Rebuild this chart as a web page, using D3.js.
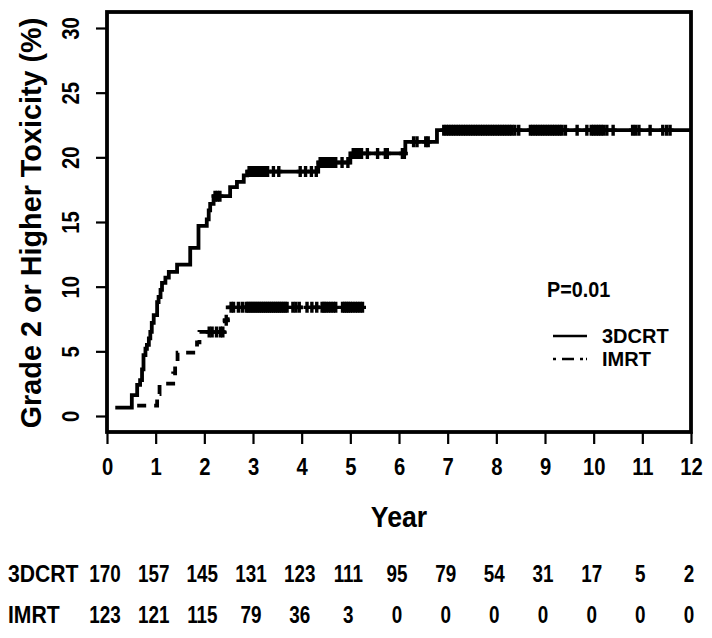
<!DOCTYPE html>
<html><head><meta charset="utf-8">
<script src="https://cdn.jsdelivr.net/npm/d3@7"></script>
<style>
html,body{margin:0;padding:0;background:#fff;}
svg{display:block;}
text{font-family:"Liberation Sans",Arial,Helvetica,sans-serif;font-weight:bold;fill:#000;}
</style>
</head><body>
<svg id="c" width="712" height="638"></svg>
<script>
// ---------- data ----------
const years = [0,1,2,3,4,5,6,7,8,9,10,11,12];
const yTicks = [0,5,10,15,20,25,30];

// 3DCRT cumulative incidence (%) step function
const crtTimes  = [0.17,0.51,0.62,0.68,0.72,0.75,0.79,0.82,0.86,0.89,0.92,0.96,1.03,1.06,1.10,1.13,1.20,1.27,1.44,1.71,1.88,2.05,2.09,2.12,2.19,2.53,2.67,2.81,2.88,4.34,5.00,6.13,6.78];
const crtValues = [0.64,1.62,2.40,2.78,3.6,4.7,5.2,5.5,6.0,6.5,7.2,7.8,8.8,9.2,9.75,10.3,10.7,11.15,11.7,13.0,14.7,15.2,15.9,16.4,17.0,17.7,18.1,18.6,18.9,19.6,20.3,21.2,22.1];
const crtEnd = 12;

// IMRT cumulative incidence (%) step function
const imrtTimes  = [0.62,1.03,1.08,1.36,1.40,1.45,1.85,1.90,2.42,2.48];
const imrtValues = [0.8,1.7,2.5,3.3,4.1,4.9,5.7,6.5,7.4,8.4];
const imrtEnd = 5.26;

// censoring times
const crtCensor = [2.22,2.27,2.32,
  2.92,2.96,3.00,3.04,3.08,3.12,3.16,3.20,3.25,3.30,3.42,3.53,3.97,4.08,4.20,4.30,
  4.38,4.42,4.46,4.50,4.54,4.58,4.62,4.66,4.70,4.83,4.95,
  5.06,5.10,5.14,5.18,5.23,5.35,5.56,5.72,5.76,6.07,6.11,
  6.30,6.37,6.55,6.60,
  6.92,6.97,7.02,7.07,7.12,7.17,7.22,7.27,7.32,7.37,7.42,7.47,7.52,7.57,7.62,7.67,7.72,7.77,7.82,7.87,7.92,7.97,8.02,8.07,8.12,8.17,8.22,8.27,8.32,8.38,8.46,
  8.70,8.75,8.80,8.85,8.90,8.95,9.00,9.05,9.10,9.15,9.20,9.25,9.30,9.35,9.42,
  9.66,9.86,9.95,10.00,10.05,10.10,10.15,10.20,10.27,10.40,10.80,10.86,10.93,11.16,11.42,11.50,11.57];
const imrtCensor = [2.10,2.16,2.25,2.33,2.38,2.45,
  2.55,2.60,2.70,2.78,2.86,2.90,2.94,2.98,3.02,3.06,3.10,3.14,3.18,3.22,3.26,3.30,3.34,3.38,3.42,3.46,3.50,3.54,3.58,3.62,3.66,3.70,
  3.82,3.88,3.95,4.11,4.21,4.31,4.42,4.46,4.50,4.55,4.60,4.65,4.70,4.84,4.88,4.92,4.96,5.00,5.05,5.10,5.15,5.20,5.25];

// number at risk
const riskLabels = ["3DCRT","IMRT"];
const riskCRT  = [170,157,145,131,123,111,95,79,54,31,17,5,2];
const riskIMRT = [123,121,115,79,36,3,0,0,0,0,0,0,0];

const seriesNames = ["3DCRT","IMRT"];
const pText = "P=0.01";
const xTitle = "Year";
const yTitle = "Grade 2 or Higher Toxicity (%)";

// ---------- layout ----------
const svg = d3.select("#c");
const L = 107, R = 691, T = 12, B = 432;
const x = d3.scaleLinear().domain([0,12]).range([L,R]);
const y = d3.scaleLinear().domain([0,30]).range([416,28]);
const SX = 0.88;

// box
svg.append("rect").attr("x",L).attr("y",T).attr("width",R-L).attr("height",B-T)
  .attr("fill","none").attr("stroke","#000").attr("stroke-width",3.8);

// y axis
const ya = svg.append("g").attr("transform",`translate(${L-1},0)`)
  .call(d3.axisLeft(y).tickValues(yTicks).tickSize(10).tickSizeOuter(0));
ya.select(".domain").remove();
ya.selectAll(".tick line").attr("stroke","#000").attr("stroke-width",2.2);
ya.selectAll(".tick text").attr("x",null).attr("dy",null)
  .attr("text-anchor","middle").attr("dominant-baseline","central")
  .style("font-size","23px")
  .attr("transform",`translate(-35,0) rotate(-90) scale(${SX},1)`);

// x axis
const xa = svg.append("g").attr("transform",`translate(0,${B})`)
  .call(d3.axisBottom(x).tickValues(years).tickSize(12).tickSizeOuter(0));
xa.select(".domain").remove();
xa.selectAll(".tick line").attr("stroke","#000").attr("stroke-width",2.2);
xa.selectAll(".tick text").attr("y",null).attr("dy",null)
  .attr("text-anchor","middle").attr("dominant-baseline","central")
  .style("font-size","23px")
  .attr("transform",`translate(0,35) scale(${SX},1)`);

// titles
svg.append("text").text(xTitle).attr("text-anchor","middle").attr("dominant-baseline","central")
  .style("font-size","29px").attr("transform",`translate(${(L+R)/2},517) scale(0.92,1)`);
svg.append("text").text(yTitle).attr("text-anchor","middle").attr("dominant-baseline","central")
  .style("font-size","30px").attr("transform",`translate(30,223) rotate(-90) scale(0.96,1)`);

// curves
function stepPts(times, values, end){
  const pts = times.map((t,i)=>[t,values[i]]);
  pts.push([end, values[values.length-1]]);
  return pts;
}
function valueAt(times, values, t){
  let v = values[0];
  for(let i=0;i<times.length;i++){ if(times[i] <= t) v = values[i]; }
  return v;
}
const line = d3.line().x(d=>x(d[0])).y(d=>y(d[1])).curve(d3.curveStepAfter);

svg.append("path").attr("d", line(stepPts(crtTimes,crtValues,crtEnd)))
  .attr("fill","none").attr("stroke","#000").attr("stroke-width",3.8);
svg.append("path").attr("d", line(stepPts(imrtTimes,imrtValues,imrtEnd)))
  .attr("fill","none").attr("stroke","#000").attr("stroke-width",3.8)
  .attr("stroke-dasharray","9,8");

const censorPath = "M0,-5.5V5.5M-3.5,0H3.5";
svg.append("g").selectAll("path").data(crtCensor).join("path")
  .attr("d",censorPath)
  .attr("transform",d=>`translate(${x(d)},${y(valueAt(crtTimes,crtValues,d))})`)
  .attr("stroke","#000").attr("stroke-width",3.4).attr("fill","none");
svg.append("g").selectAll("path").data(imrtCensor).join("path")
  .attr("d",censorPath)
  .attr("transform",d=>`translate(${x(d)},${y(valueAt(imrtTimes,imrtValues,d))})`)
  .attr("stroke","#000").attr("stroke-width",3.4).attr("fill","none");

// p-value & legend
svg.append("text").text(pText).attr("dominant-baseline","central")
  .style("font-size","22px").attr("transform","translate(547,289) scale(0.9,1)");
const lg = svg.append("g");
seriesNames.forEach((name,i)=>{
  const yy = 336 + i*23;
  lg.append("line").attr("x1",553).attr("x2",587).attr("y1",yy).attr("y2",yy)
    .attr("stroke","#000").attr("stroke-width",2.4)
    .attr("stroke-dasharray", i===0 ? null : "3,6,12,6,3");
  lg.append("text").text(name).attr("dominant-baseline","central")
    .style("font-size","20px").attr("transform",`translate(602,${yy}) scale(1,1)`);
});

// risk table
const rows = [riskCRT, riskIMRT];
rows.forEach((vals,r)=>{
  const yy = [574,615][r];
  svg.append("text").text(riskLabels[r]).attr("dominant-baseline","central")
    .style("font-size","23px").attr("transform",`translate(8,${yy}) scale(0.92,1)`);
  svg.append("g").selectAll("text").data(vals).join("text")
    .text(d=>d).attr("text-anchor","middle").attr("dominant-baseline","central")
    .style("font-size","23px")
    .attr("transform",(d,i)=>`translate(${x(years[i])-2},${yy}) scale(0.82,1)`);
});
</script>
</body></html>
